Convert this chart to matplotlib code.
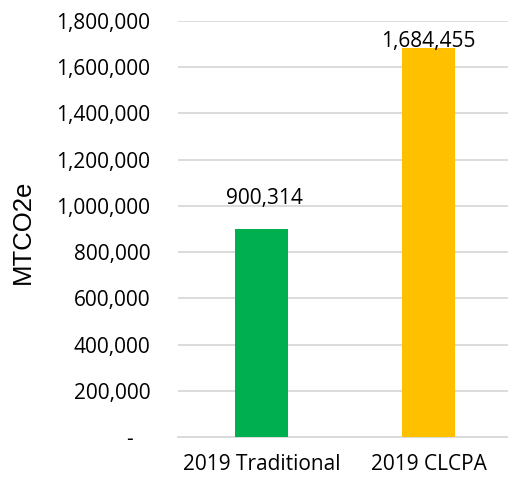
import matplotlib
matplotlib.use("Agg")
import matplotlib.pyplot as plt
from matplotlib.ticker import FuncFormatter

# chart data
categories = ["2019 Traditional", "2019 CLCPA"]
values = [900314, 1684455]
bar_colors = ["#00B050", "#FFC000"]
y_ticks = [0, 200000, 400000, 600000, 800000, 1000000, 1200000, 1400000, 1600000, 1800000]

plt.rcParams["font.family"] = ["Open Sans", "DejaVu Sans"]

fig = plt.figure(figsize=(5.08, 4.79), dpi=100)
ax = fig.add_axes([178 / 508, 1 - 437 / 479, 330 / 508, 416 / 479])

x = range(len(categories))
ax.bar(x, values, width=0.317, color=bar_colors, zorder=3)

ax.set_xlim(-0.5, 1.476)
ax.set_ylim(0, 1800000)
ax.set_yticks(y_ticks)
ax.yaxis.set_major_formatter(FuncFormatter(lambda v, p: "-   " if v == 0 else f"{int(v):,}"))
ax.set_xticks(list(x))
ax.set_xticklabels(categories)

ax.grid(axis="y", color="#D9D9D9", linewidth=1.3, zorder=0)
for s in ["top", "right", "left"]:
    ax.spines[s].set_visible(False)
ax.spines["bottom"].set_color("#D9D9D9")
ax.spines["bottom"].set_linewidth(1.3)
ax.tick_params(axis="both", length=0, labelsize=15, colors="black")
ax.tick_params(axis="y", pad=20)
ax.tick_params(axis="x", pad=12)

# data labels
ax.annotate(f"{values[0]:,}", (0, values[0]), xytext=(2, 14), textcoords="offset points",
            ha="center", va="bottom", fontsize=15)
ax.annotate(f"{values[1]:,}", (1, values[1]), xytext=(0, -3), textcoords="offset points",
            ha="center", va="bottom", fontsize=15)

fig.text(23 / 508, 1 - 232 / 479, "MTCO2e", rotation=90, ha="center", va="center",
         fontsize=18.5, family="Liberation Sans")

plt.savefig("out.png", dpi=100)
